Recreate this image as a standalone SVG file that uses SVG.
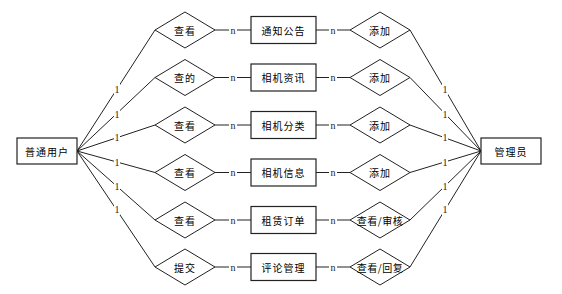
<svg xmlns="http://www.w3.org/2000/svg" width="562" height="294" viewBox="0 0 562 294">
<style>
.ent{fill:#fff;stroke:#222;stroke-width:1.2}
.rel{fill:#fff;stroke:#222;stroke-width:1}
.t{font-family:"Noto Sans CJK SC","Noto Sans",sans-serif;font-size:10px;fill:#000;text-anchor:middle;dominant-baseline:central;letter-spacing:1px}
.ln{stroke:#222;stroke-width:1;fill:none}
.lb{font-family:"Liberation Serif",serif;font-size:10px;fill:#222;text-anchor:middle;dominant-baseline:central}
.bg{fill:#fff}
</style>
<rect width="562" height="294" fill="#fff"/>
<g id="connectors">
<path class="ln" d="M77,151 L155,30 M77,151 L155,77.5 M77,151 L155,125 M77,151 L155,172.5 M77,151 L155,220 M77,151 L155,267"/>
<path class="ln" d="M481,151 L410,30 M481,151 L410,77.5 M481,151 L410,125 M481,151 L410,172.5 M481,151 L410,220 M481,151 L410,267"/>
<path class="ln" d="M215,30 H251 M215,77.5 H251 M215,125 H251 M215,172.5 H251 M215,220 H251 M215,267 H251"/>
<path class="ln" d="M316,30 H350 M316,77.5 H350 M316,125 H350 M316,172.5 H350 M316,220 H350 M316,267 H350"/>
<g>
<rect class="bg" x="114" y="84" width="6" height="11"/><text class="lb" x="117" y="89.5">1</text>
<rect class="bg" x="114" y="109" width="6" height="11"/><text class="lb" x="117" y="114.5">1</text>
<rect class="bg" x="114" y="132" width="6" height="11"/><text class="lb" x="117" y="137.5">1</text>
<rect class="bg" x="114" y="157" width="6" height="11"/><text class="lb" x="117" y="162.5">1</text>
<rect class="bg" x="114" y="181" width="6" height="11"/><text class="lb" x="117" y="186">1</text>
<rect class="bg" x="114" y="204" width="6" height="11"/><text class="lb" x="117" y="209">1</text>
<rect class="bg" x="442" y="84" width="6" height="11"/><text class="lb" x="445" y="89.5">1</text>
<rect class="bg" x="442" y="109" width="6" height="11"/><text class="lb" x="445" y="114.5">1</text>
<rect class="bg" x="442" y="132" width="6" height="11"/><text class="lb" x="445" y="137.5">1</text>
<rect class="bg" x="442" y="157" width="6" height="11"/><text class="lb" x="445" y="162">1</text>
<rect class="bg" x="442" y="181" width="6" height="11"/><text class="lb" x="445" y="186">1</text>
<rect class="bg" x="442" y="204" width="6" height="11"/><text class="lb" x="445" y="209">1</text>
</g>
<g>
<rect class="bg" x="229" y="25" width="8" height="10"/><text class="lb" x="233" y="30">n</text>
<rect class="bg" x="229" y="72.5" width="8" height="10"/><text class="lb" x="233" y="77.5">n</text>
<rect class="bg" x="229" y="120" width="8" height="10"/><text class="lb" x="233" y="125">n</text>
<rect class="bg" x="229" y="167.5" width="8" height="10"/><text class="lb" x="233" y="172.5">n</text>
<rect class="bg" x="229" y="215" width="8" height="10"/><text class="lb" x="233" y="220">n</text>
<rect class="bg" x="229" y="262" width="8" height="10"/><text class="lb" x="233" y="267">n</text>
<rect class="bg" x="329" y="25" width="8" height="10"/><text class="lb" x="333" y="30">n</text>
<rect class="bg" x="329" y="72.5" width="8" height="10"/><text class="lb" x="333" y="77.5">n</text>
<rect class="bg" x="329" y="120" width="8" height="10"/><text class="lb" x="333" y="125">n</text>
<rect class="bg" x="329" y="167.5" width="8" height="10"/><text class="lb" x="333" y="172.5">n</text>
<rect class="bg" x="329" y="215" width="8" height="10"/><text class="lb" x="333" y="220">n</text>
<rect class="bg" x="329" y="262" width="8" height="10"/><text class="lb" x="333" y="267">n</text>
</g>
</g>
<g id="user"><rect class="ent" x="17" y="138" width="60" height="26"/><text class="t" x="47" y="151">普通用户</text></g>
<g id="admin"><rect class="ent" x="481" y="138" width="60" height="26"/><text class="t" x="511" y="151">管理员</text></g>
<g id="r1"><polygon class="rel" points="155,30 185,12 215,30 185,48"/><text class="t" x="185" y="30">查看</text></g>
<g id="r2"><polygon class="rel" points="155,77.5 185,59.5 215,77.5 185,95.5"/><text class="t" x="185" y="77.5">查的</text></g>
<g id="r3"><polygon class="rel" points="155,125 185,107 215,125 185,143"/><text class="t" x="185" y="125">查看</text></g>
<g id="r4"><polygon class="rel" points="155,172.5 185,154.5 215,172.5 185,190.5"/><text class="t" x="185" y="172.5">查看</text></g>
<g id="r5"><polygon class="rel" points="155,220 185,202 215,220 185,238"/><text class="t" x="185" y="220">查看</text></g>
<g id="r6"><polygon class="rel" points="155,267 185,249 215,267 185,285"/><text class="t" x="185" y="267">提交</text></g>
<g id="e1"><rect class="ent" x="251" y="16.5" width="65" height="27"/><text class="t" x="283.5" y="30">通知公告</text></g>
<g id="e2"><rect class="ent" x="251" y="64" width="65" height="27"/><text class="t" x="283.5" y="77.5">相机资讯</text></g>
<g id="e3"><rect class="ent" x="251" y="111.5" width="65" height="27"/><text class="t" x="283.5" y="125">相机分类</text></g>
<g id="e4"><rect class="ent" x="251" y="159" width="65" height="27"/><text class="t" x="283.5" y="172.5">相机信息</text></g>
<g id="e5"><rect class="ent" x="251" y="206.5" width="65" height="27"/><text class="t" x="283.5" y="220">租赁订单</text></g>
<g id="e6"><rect class="ent" x="251" y="253.5" width="65" height="27"/><text class="t" x="283.5" y="267">评论管理</text></g>
<g id="a1"><polygon class="rel" points="350,30 380,12 410,30 380,48"/><text class="t" x="380" y="30">添加</text></g>
<g id="a2"><polygon class="rel" points="350,77.5 380,59.5 410,77.5 380,95.5"/><text class="t" x="380" y="77.5">添加</text></g>
<g id="a3"><polygon class="rel" points="350,125 380,107 410,125 380,143"/><text class="t" x="380" y="125">添加</text></g>
<g id="a4"><polygon class="rel" points="350,172.5 380,154.5 410,172.5 380,190.5"/><text class="t" x="380" y="172.5">添加</text></g>
<g id="a5"><polygon class="rel" points="350,220 380,202 410,220 380,238"/><text class="t" x="380" y="220" style="letter-spacing:0.5px">查看/审核</text></g>
<g id="a6"><polygon class="rel" points="350,267 380,249 410,267 380,285"/><text class="t" x="380" y="267" style="letter-spacing:0.5px">查看/回复</text></g>
</svg>
